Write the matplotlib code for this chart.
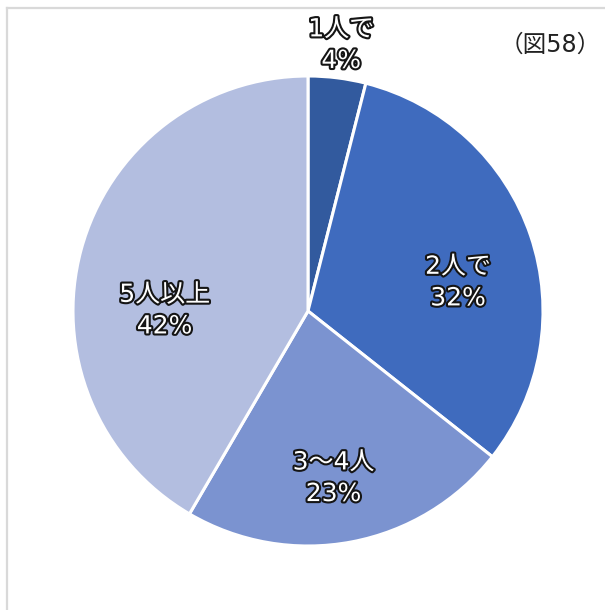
import matplotlib
matplotlib.use("Agg")
import matplotlib.pyplot as plt
import matplotlib.patheffects as pe
from matplotlib.lines import Line2D
import numpy as np

# Verdana-like latin from DejaVu, kanji/kana from Noto CJK
plt.rcParams['font.family'] = ['DejaVu Sans', 'Noto Sans CJK JP']

# data
categories = ['1人で', '2人で', '3～4人', '5人以上']
shares = [4, 32, 23, 42]
colors = ['#325A9E', '#3F6BBE', '#7B93D0', '#B3BEE0']
title_note = '（図58）'

# label placement (distance from centre as fraction of radius, angle shift in degrees)
label_dist = [1.14, 0.65, 0.72, 0.61]
label_shift = [0, -8, -2, 15]

W, H = 605, 610
fig = plt.figure(figsize=(W / 100, H / 100), dpi=100)
cx, cy, R = 308, 311, 235
ax = fig.add_axes([(cx - R) / W, (H - cy - R) / H, 2 * R / W, 2 * R / H])

wedges, _ = ax.pie(shares, colors=colors, startangle=90, counterclock=False,
                   radius=1, wedgeprops=dict(edgecolor='white', linewidth=2.2))
ax.set_xlim(-1, 1)
ax.set_ylim(-1, 1)
ax.axis('off')

for w, cat, val, d, s in zip(wedges, categories, shares, label_dist, label_shift):
    mid = np.deg2rad((w.theta1 + w.theta2) / 2 + s)
    ax.text(d * np.cos(mid), d * np.sin(mid), f'{cat}\n{val}%',
            ha='center', va='center', fontsize=18, color='white',
            linespacing=1.4,
            path_effects=[pe.withStroke(linewidth=3, foreground='#151515')])

fig.text(550 / W, 1 - 45 / H, title_note, ha='center', va='center',
         fontsize=17, color='#222222')

# light frame (left and top edges)
fx, fy = 7 / W, 1 - 8 / H
fig.add_artist(Line2D([fx, fx], [0, fy], transform=fig.transFigure,
                      color='#d9d9d9', linewidth=1.6))
fig.add_artist(Line2D([fx, 1], [fy, fy], transform=fig.transFigure,
                      color='#d9d9d9', linewidth=1.6))

fig.savefig('out.png', dpi=100)
